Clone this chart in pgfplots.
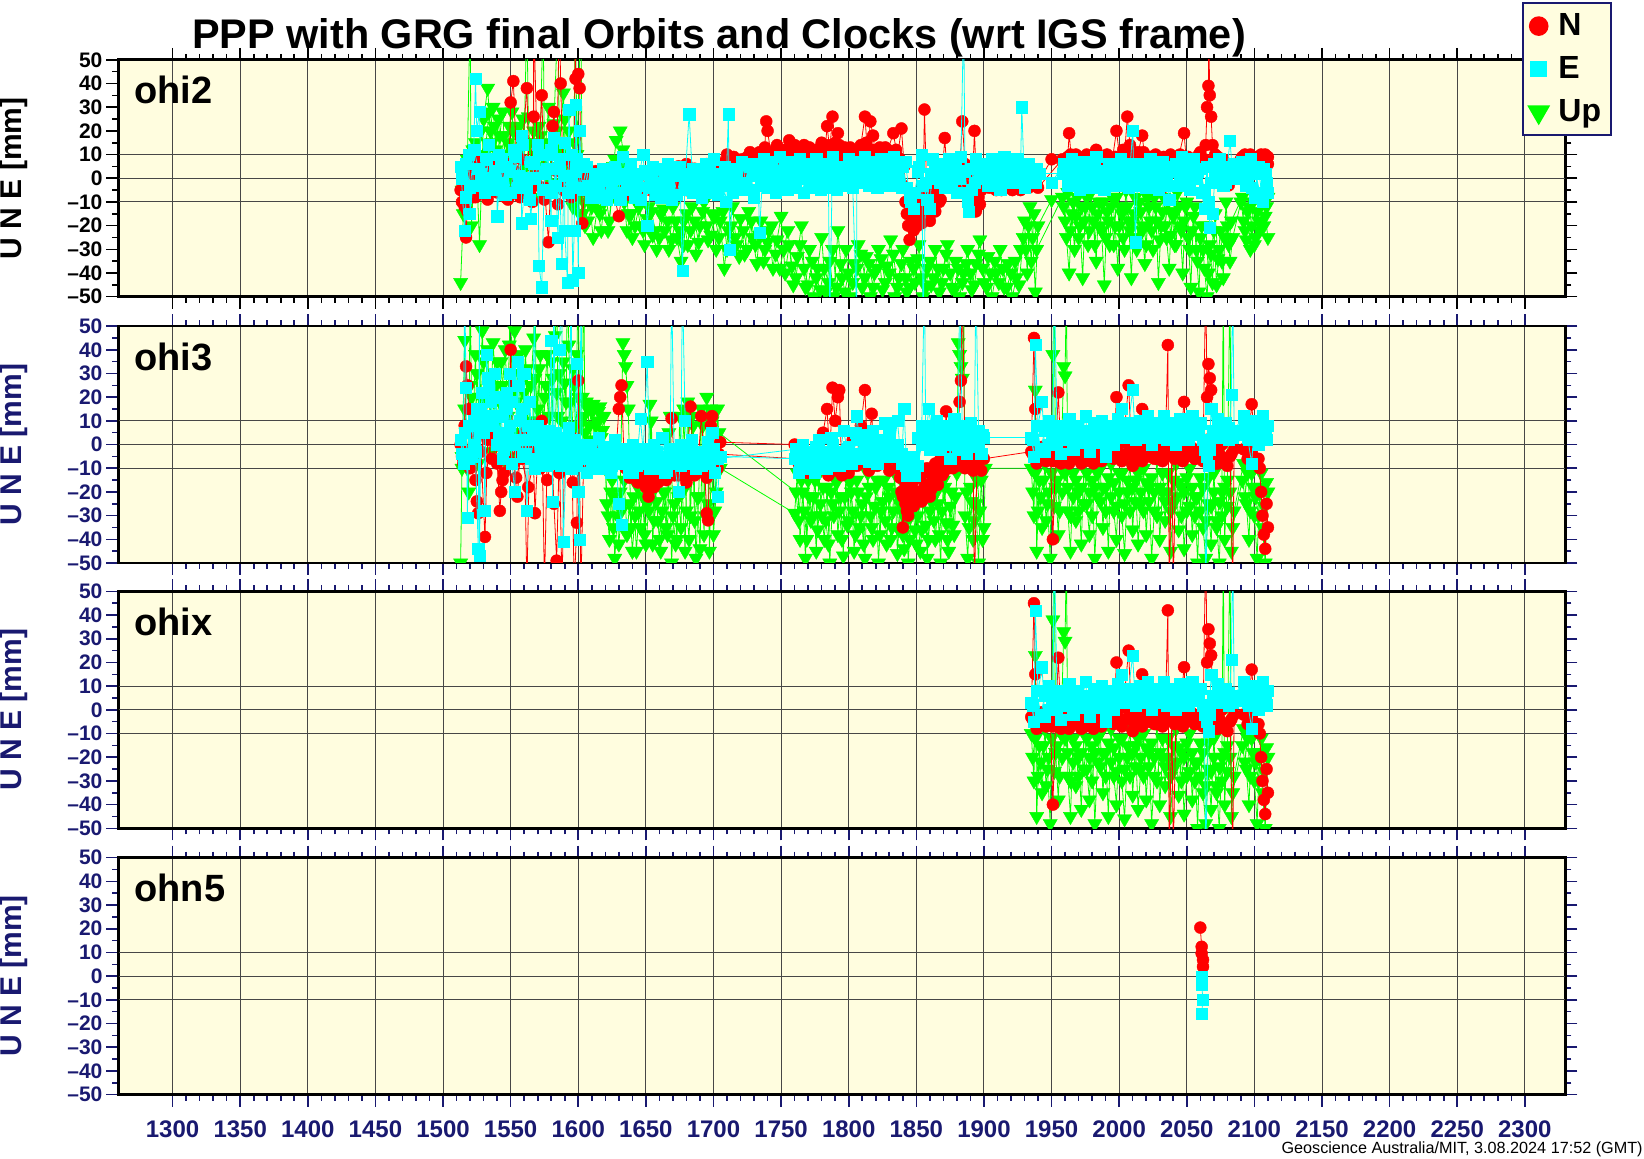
\documentclass[border=0pt]{standalone}
\usepackage{fontspec}
\setmainfont{Liberation Sans}
\usepackage{pgfplots}
\usepackage{pgfplotstable}
\pgfplotsset{compat=1.18}
\definecolor{bgy}{RGB}{255,253,223}
\definecolor{navy}{RGB}{25,25,112}
\definecolor{cN}{RGB}{255,0,0}
\definecolor{cE}{RGB}{0,255,255}
\definecolor{cU}{RGB}{0,255,0}

% ---------------- ohi2 ----------------
\pgfplotstableread[row sep=\\]{x y\\
1513 5\\1516 -22\\1517 -8\\1519 10\\1520 -15\\1522 -3\\1524 42\\1525 20\\1527 28\\1528 2\\1531 -6\\1534 14\\1537 0\\1540 -5\\1540 -16\\1543 8\\1546 -7\\1549 3\\1552 12\\1555 -4\\1558 18\\1558 -19\\1561 0\\1564 -9\\1565 -17\\1567 6\\1570 14\\1571 -37\\1573 -46\\1575 2\\1577 10\\1580 -18\\1580 -6\\1582 17\\1585 -25\\1586 4\\1588 -36\\1590 15\\1590 -22\\1592 -44\\1593 29\\1595 -2\\1596 -43\\1597 -22\\1598 31\\1599 8\\1600 -40\\1601 20\\1603 -5\\1606 5\\
1609 -8\\1612 2\\1615 -4\\1618 4\\1621 -9\\1624 -1\\1627 5\\1630 -6\\1633 9\\1636 -3\\1639 6\\1642 -8\\1645 2\\1648 10\\1651 -20\\1654 0\\1657 -7\\1660 4\\1663 -5\\1666 6\\1669 -9\\1672 1\\1675 5\\1677 -39\\1679 0\\1682 27\\1685 -6\\1688 3\\1691 -8\\1694 6\\1697 -2\\1700 8\\1703 -7\\1706 2\\1709 -10\\1711 27\\1712 -30\\1715 4\\1718 -5\\1721 7\\1724 -2\\1727 5\\1730 -8\\1733 3\\1734 -23\\1737 8\\1740 -4\\1743 6\\1746 -6\\1749 9\\1752 0\\1755 -5\\1758 7\\1761 -3\\1764 8\\1767 -6\\1770 4\\1773 -1\\1776 8\\1779 -5\\1782 6\\1785 -3\\1786 -60\\1788 9\\1791 -5\\1794 5\\1797 -2\\1800 8\\
1803 -4\\1806 -60\\1806 7\\1809 0\\1812 9\\1815 -3\\1818 6\\1821 -4\\1824 8\\1827 1\\1830 -3\\1833 9\\1836 2\\1839 -4\\1842 7\\1845 -8\\1848 -13\\1851 3\\1854 10\\1855 -60\\1857 -2\\1860 -13\\1862 8\\1865 0\\1868 5\\1871 -4\\1874 8\\1877 1\\1880 -6\\1883 9\\1885 70\\1886 3\\1889 -14\\1891 -5\\1894 8\\1897 0\\1900 5\\1903 -3\\1906 8\\1909 1\\1912 -5\\1915 9\\1918 2\\1921 -2\\1924 8\\1927 3\\1928 30\\1930 -4\\1933 6\\1936 0\\1939 4\\1950 -2\\
1959 6\\1962 -3\\1965 8\\1968 1\\1971 -5\\1974 7\\1977 2\\1980 -4\\1983 9\\1986 0\\1989 -5\\1992 6\\1995 1\\1998 -3\\2001 8\\2004 2\\2007 -4\\2010 20\\2012 -27\\2014 6\\2017 0\\2020 -4\\2023 8\\2026 2\\2029 -5\\2032 7\\2035 0\\2037 -9\\2040 5\\2043 -3\\2046 9\\2049 1\\2052 -5\\2055 8\\2058 3\\2061 -6\\2063 -13\\2065 5\\2067 -21\\2069 -15\\2071 2\\2074 8\\2077 -3\\2080 5\\2082 16\\2084 0\\
2091 7\\2094 -3\\2097 8\\2100 -8\\2103 5\\2106 -10\\2108 2\\2110 -6\\
}\Ebi
\pgfplotstableread[row sep=\\]{x y\\
1514 0\\1517 6\\1520 -4\\1523 12\\1526 4\\1529 -2\\1532 8\\1535 -5\\1538 3\\1541 10\\1544 -2\\1547 5\\1550 -6\\1553 9\\1556 1\\1559 14\\1562 -4\\1565 7\\1568 0\\1571 10\\1574 -5\\1577 4\\1580 12\\1583 -3\\1586 8\\1589 1\\1592 -6\\1595 10\\1598 3\\1601 -4\\1604 6\\
1607 -3\\1610 -6\\1613 0\\1616 -8\\1619 -1\\1622 3\\1625 -6\\1628 0\\1631 -9\\1634 2\\1637 -5\\1640 1\\1643 -3\\1646 -9\\1649 3\\1652 -4\\1655 5\\1658 -2\\1661 -8\\1664 1\\1667 -4\\1670 3\\1673 -7\\1676 2\\1679 -5\\1682 0\\1685 4\\1688 -3\\1691 1\\1694 -6\\1697 3\\1700 -4\\
1702 2\\1705 -3\\1708 5\\1711 -1\\1714 -6\\1717 3\\1720 -2\\1723 6\\1726 -5\\1729 1\\1732 6\\1735 -3\\1738 2\\1741 7\\1744 -2\\1747 3\\1750 -4\\1753 5\\1756 1\\1759 -4\\1762 4\\1765 0\\1768 6\\1771 -4\\1774 3\\1777 -2\\1780 5\\1783 0\\1786 -4\\1789 4\\1792 1\\1795 -3\\1798 5\\
1801 1\\1804 5\\1807 -2\\1810 4\\1813 0\\1816 7\\1819 2\\1822 -2\\1825 4\\1828 6\\1831 0\\1834 4\\1837 -1\\1840 5\\1843 -4\\1846 -10\\1849 -6\\1852 5\\1855 -3\\1858 -9\\1861 2\\1864 4\\1867 -2\\1870 6\\1873 2\\1876 -3\\1879 5\\1882 0\\1885 -6\\1888 -10\\1890 4\\1893 -2\\1896 5\\1899 1\\1902 6\\1905 0\\1908 4\\1911 -2\\1914 5\\1917 0\\1920 6\\1923 1\\1926 -2\\1929 5\\1932 1\\1935 4\\1938 -2\\1941 2\\
1958 2\\1961 5\\1964 -1\\1967 4\\1970 0\\1973 5\\1976 -2\\1979 3\\1982 6\\1985 -1\\1988 3\\1991 -2\\1994 5\\1997 1\\2000 4\\2003 -2\\2006 6\\2009 1\\2012 -3\\2015 4\\2018 6\\2021 0\\2024 4\\2027 -2\\2030 5\\2033 2\\2036 -3\\2039 3\\2042 6\\2045 0\\2048 4\\2051 -2\\2054 5\\2057 0\\2060 4\\2063 -5\\2066 -10\\2068 -2\\2070 6\\2073 1\\2076 5\\2079 -2\\2082 3\\2085 6\\
2090 4\\2092 0\\2095 5\\2098 -4\\2101 2\\2104 -6\\2107 4\\2109 -2\\
}\EbiC

\pgfplotstableread[row sep=\\]{x y\\
1513 -5\\1516 -12\\1517 -25\\1519 5\\1522 -8\\1525 8\\1528 -3\\1531 3\\1534 -6\\1537 5\\1540 -3\\1543 2\\1546 -8\\1549 6\\1550 32\\1552 41\\1555 -3\\1558 8\\1562 38\\1564 -6\\1567 26\\1567 70\\1570 2\\1573 35\\1575 -4\\1578 -27\\1581 22\\1582 28\\1584 3\\1586 70\\1587 40\\1589 -5\\1591 8\\1594 -2\\1597 5\\1598 70\\1598 42\\1600 44\\1601 38\\1603 -19\\1605 -2\\
1608 1\\1611 -3\\1614 2\\1617 -5\\1620 0\\1623 3\\1626 -6\\1630 -16\\1632 -8\\1635 -2\\1638 -7\\1641 0\\1644 -5\\1647 2\\1650 -4\\1653 1\\1656 -6\\1659 2\\1662 -3\\1665 0\\1668 3\\1671 -5\\1674 5\\1677 -2\\1680 6\\1683 1\\1686 4\\1689 -3\\1692 3\\1695 6\\1698 0\\1701 8\\1704 2\\1707 5\\1710 10\\1713 3\\1716 7\\1719 0\\1722 5\\1725 9\\1728 3\\1731 6\\1734 11\\1737 4\\1739 24\\1740 20\\1743 8\\1746 12\\1749 5\\1752 10\\1756 16\\1758 6\\1761 12\\1764 8\\1767 14\\1770 6\\1773 11\\1776 5\\1779 13\\1782 8\\1784 22\\1786 12\\1788 26\\1790 15\\1792 19\\1794 10\\1797 13\\1800 6\\
1803 11\\1806 8\\1809 14\\1812 26\\1814 10\\1816 24\\1818 18\\1820 9\\1823 13\\1826 7\\1829 12\\1833 19\\1836 9\\1839 21\\1841 5\\1843 -15\\1845 -26\\1847 -18\\1849 -10\\1851 -20\\1853 -15\\1855 -8\\1856 29\\1858 -12\\1860 -18\\1862 -5\\1864 -14\\1866 -3\\1868 -9\\1871 17\\1873 0\\1876 -4\\1879 5\\1882 2\\1884 24\\1886 6\\1888 2\\1891 -8\\1893 20\\1895 -12\\1897 -11\\1900 -3\\1903 2\\1906 -2\\1909 -5\\1912 -1\\1915 -4\\1918 0\\1921 -5\\1924 -2\\1927 -5\\1930 -1\\1933 -4\\1936 0\\1939 -3\\1950 8\\
1959 4\\1962 9\\1963 19\\1965 6\\1968 10\\1971 4\\1974 8\\1977 3\\1980 -4\\1983 12\\1986 5\\1989 9\\1992 2\\1995 8\\1998 20\\2001 6\\2004 10\\2006 26\\2008 14\\2011 7\\2014 11\\2017 18\\2020 4\\2023 9\\2026 3\\2029 8\\2032 -4\\2035 6\\2038 10\\2041 3\\2044 9\\2048 19\\2050 5\\2053 8\\2056 3\\2059 10\\2062 6\\2064 14\\2065 30\\2066 39\\2066 70\\2067 35\\2068 26\\2069 14\\2071 10\\2074 5\\2077 8\\2081 -3\\2084 5\\
2091 9\\2094 6\\2097 10\\2100 7\\2103 9\\2106 8\\2108 10\\2110 6\\
}\Nbi
\pgfplotstableread[row sep=\\]{x y\\
1514 -10\\1518 -14\\1521 2\\1524 -8\\1527 4\\1530 -2\\1533 -9\\1536 0\\1540 -6\\1544 -1\\1548 -9\\1553 3\\1557 -8\\1561 -2\\1566 -10\\1570 -3\\1575 -9\\1580 -4\\1585 -11\\1590 -3\\1595 -8\\1600 -5\\1604 0\\1607 2\\1610 -2\\1613 3\\1616 -1\\1640 -6\\1660 -8\\1680 -5\\
1700 3\\1703 6\\1706 1\\1709 7\\1712 4\\1715 9\\1718 5\\1721 8\\1724 3\\1727 11\\1730 7\\1733 4\\1736 9\\1738 13\\1741 6\\1744 10\\1747 14\\1750 8\\1753 12\\1755 6\\1757 10\\1760 14\\1762 7\\1765 11\\1768 9\\1771 13\\1774 8\\1777 12\\1780 15\\1782 10\\1785 14\\1787 9\\1789 12\\1791 8\\1793 14\\1795 11\\1798 9\\
1801 13\\1804 7\\1807 12\\1810 9\\1813 15\\1815 8\\1817 12\\1819 6\\1821 11\\1824 8\\1827 13\\1830 9\\1832 6\\1835 12\\1838 8\\1840 -3\\1842 -10\\1844 -20\\1846 -14\\1848 -22\\1850 -16\\1852 -11\\1854 -19\\1856 -13\\1857 -7\\1859 -15\\1861 -9\\1863 -12\\1865 -6\\1867 -10\\1869 -4\\1872 -2\\1875 2\\1878 -3\\1881 5\\1884 -2\\1887 3\\1890 -6\\1892 -10\\1894 -14\\1896 -8\\1898 -5\\1901 -2\\1904 -4\\1907 -1\\1910 -3\\1913 -5\\1916 -2\\1919 -4\\1922 -1\\1925 -3\\1928 -4\\1931 -2\\1934 -3\\1937 -1\\1940 -4\\
1958 8\\1961 5\\1964 10\\1967 6\\1970 9\\1973 5\\1976 10\\1979 6\\1982 8\\1985 3\\1988 7\\1991 10\\1994 5\\1997 9\\2000 6\\2003 12\\2006 8\\2009 10\\2012 5\\2015 9\\2018 11\\2021 7\\2024 6\\2027 10\\2030 6\\2033 9\\2036 4\\2039 8\\2042 6\\2045 10\\2048 7\\2051 9\\2054 5\\2057 8\\2060 11\\2063 8\\2070 5\\2073 9\\2076 4\\2079 6\\2082 2\\2085 6\\
2090 8\\2093 10\\2096 7\\2099 9\\2102 6\\2105 10\\2108 8\\2110 9\\
}\NbiC

\pgfplotstableread[row sep=\\]{x y\\
1513 -44\\1515 -15\\1518 8\\1520 70\\1521 -20\\1524 15\\1527 -28\\1530 25\\1533 38\\1535 20\\1537 30\\1539 12\\1541 25\\1543 5\\1545 18\\1547 -5\\1549 22\\1551 28\\1553 10\\1556 22\\1558 -3\\1560 15\\1562 70\\1563 26\\1565 5\\1567 20\\1570 -8\\1572 18\\1574 70\\1575 8\\1578 30\\1580 -2\\1582 23\\1585 70\\1586 12\\1589 36\\1591 0\\1593 20\\1596 -12\\1598 70\\1599 10\\1602 70\\1603 -15\\
1605 -20\\1608 -8\\1611 -25\\1614 -13\\1617 -22\\1620 -6\\1623 -18\\1626 5\\1628 16\\1631 20\\1633 12\\1635 -2\\1637 -15\\1640 -25\\1643 -10\\1646 -20\\1649 -28\\1652 -12\\1655 -24\\1658 -30\\1661 -15\\1664 -22\\1667 -30\\1670 -12\\1673 -25\\1676 -35\\1678 -18\\1681 -28\\1684 -12\\1687 -32\\1690 -20\\1693 -10\\1696 -26\\1699 -15\\1702 -30\\1705 -18\\1708 -38\\1711 -22\\1714 -12\\1717 -28\\1720 -17\\1723 -32\\1726 -14\\1729 -25\\1732 -36\\1735 -18\\1738 -30\\1741 -22\\1744 -38\\1747 -26\\1750 -16\\1753 -40\\1756 -28\\1759 -45\\1762 -33\\1765 -20\\1768 -46\\1771 -30\\1774 -50\\1777 -38\\1780 -25\\1783 -48\\1786 -35\\1789 -50\\1792 -22\\1795 -42\\1798 -30\\
1801 -50\\1804 -36\\1807 -28\\1810 -46\\1813 -33\\1816 -50\\1819 -40\\1822 -30\\1825 -47\\1828 -37\\1831 -26\\1834 -50\\1837 -42\\1840 -30\\1843 -48\\1846 -35\\1849 -44\\1852 -28\\1855 -50\\1858 -38\\1861 -45\\1864 -30\\1867 -48\\1870 -38\\1873 -28\\1876 -46\\1879 -35\\1882 -50\\1885 -40\\1888 -30\\1891 -47\\1894 -36\\1897 -26\\1900 -44\\1903 -33\\1906 -50\\1909 -40\\1912 -30\\1915 -46\\1918 -36\\1921 -50\\1924 -42\\1927 -30\\1930 -18\\1932 -40\\1934 -12\\1936 -25\\1938 -48\\1940 -20\\1950 -9\\
1959 -12\\1961 -25\\1963 -40\\1965 -15\\1967 -30\\1969 -8\\1971 -20\\1973 -42\\1975 -12\\1977 -28\\1979 -6\\1981 -18\\1983 -35\\1985 -10\\1987 -22\\1989 -45\\1991 -14\\1993 -28\\1995 -8\\1997 -20\\1999 -38\\2001 -12\\2003 -25\\2005 -5\\2007 -18\\2009 -42\\2011 -15\\2013 -30\\2015 -10\\2017 -22\\2019 -36\\2021 -8\\2023 -18\\2025 -30\\2027 -12\\2029 -44\\2031 -20\\2033 -8\\2035 -25\\2037 -38\\2039 -14\\2041 -28\\2043 -6\\2045 -20\\2047 -40\\2049 -12\\2051 -25\\2053 -46\\2055 -16\\2057 -30\\2059 -48\\2061 -20\\2063 -38\\2065 -50\\2067 -28\\2069 -44\\2071 -15\\2073 -34\\2075 -22\\2077 -42\\2079 -10\\2081 -28\\2083 -18\\
2091 -8\\2093 -22\\2095 -14\\2097 -30\\2099 -10\\2101 -25\\2103 -18\\2105 -6\\2107 -20\\2109 -12\\2110 -8\\
}\Ubi
\pgfplotstableread[row sep=\\]{x y\\
1514 -5\\1516 5\\1519 -10\\1522 12\\1525 0\\1528 20\\1531 10\\1534 28\\1536 15\\1538 22\\1540 8\\1542 18\\1544 28\\1546 10\\1548 15\\1550 0\\1552 20\\1554 -5\\1557 12\\1559 25\\1561 5\\1564 15\\1566 -3\\1568 10\\1571 22\\1573 5\\1576 15\\1579 -5\\1581 12\\1584 20\\1587 5\\1590 25\\1592 10\\1594 -2\\1597 15\\1600 -8\\1601 -15\\1604 -10\\1607 -18\\1610 -12\\1613 -5\\1616 -15\\1619 -10\\1622 -22\\1625 -8\\1627 8\\1629 -5\\1632 5\\1634 -10\\1636 -22\\1639 -15\\1642 -20\\1645 -12\\1648 -22\\1651 -17\\1654 -14\\1657 -22\\1660 -25\\1663 -13\\1666 -18\\1669 -26\\1672 -18\\1675 -22\\1678 -28\\1680 -15\\1683 -22\\1686 -18\\1689 -27\\1692 -14\\1695 -20\\1698 -24\\
1701 -16\\1704 -25\\1707 -14\\1710 -30\\1713 -20\\1716 -25\\1719 -33\\1722 -22\\1725 -30\\1728 -18\\1731 -28\\1734 -24\\1737 -35\\1740 -27\\1743 -20\\1746 -32\\1749 -38\\1752 -30\\1755 -22\\1758 -37\\1761 -42\\1764 -28\\1767 -38\\1770 -45\\1773 -35\\1776 -42\\1779 -47\\1782 -38\\1785 -44\\1788 -30\\1791 -46\\1794 -36\\1797 -48\\1800 -40\\1803 -44\\1806 -38\\1809 -32\\1812 -42\\1815 -36\\1818 -46\\1821 -38\\1824 -34\\1827 -44\\1830 -40\\1833 -32\\1836 -46\\1839 -36\\1842 -42\\1845 -46\\1848 -38\\1851 -34\\1854 -42\\1857 -46\\1860 -35\\1863 -42\\1866 -38\\1869 -44\\1872 -32\\1875 -40\\1878 -47\\1881 -38\\1884 -44\\1887 -36\\1890 -40\\1893 -45\\1896 -32\\1899 -38\\1902 -46\\1905 -40\\1908 -35\\1911 -44\\1914 -38\\1917 -46\\1920 -40\\1923 -35\\1926 -45\\1929 -25\\1931 -30\\1933 -20\\1935 -35\\1937 -15\\1939 -30\\
1958 -8\\1960 -18\\1962 -6\\1964 -22\\1966 -10\\1968 -16\\1970 -25\\1972 -12\\1974 -18\\1976 -8\\1978 -22\\1980 -12\\1982 -28\\1984 -15\\1986 -20\\1988 -10\\1990 -25\\1992 -18\\1994 -12\\1996 -28\\1998 -8\\2000 -20\\2002 -15\\2004 -30\\2006 -12\\2008 -22\\2010 -18\\2012 -8\\2014 -25\\2016 -14\\2018 -20\\2020 -28\\2022 -12\\2024 -22\\2026 -8\\2028 -18\\2030 -26\\2032 -14\\2034 -20\\2036 -10\\2038 -24\\2040 -16\\2042 -28\\2044 -12\\2046 -22\\2048 -18\\2050 -10\\2052 -30\\2054 -22\\2056 -12\\2058 -35\\2060 -25\\2062 -30\\2064 -20\\2066 -40\\2068 -32\\2070 -22\\2072 -45\\2074 -30\\2076 -35\\2078 -25\\2080 -20\\2082 -35\\2084 -25\\
2090 -10\\2092 -18\\2094 -26\\2096 -12\\2098 -20\\2100 -28\\2102 -14\\2104 -22\\2106 -10\\2108 -16\\2110 -25\\
}\UbiC

% ---------------- ohi3 part A (1513-1900) ----------------
\pgfplotstableread[row sep=\\]{x y\\
1513 2\\1515 -8\\1516 70\\1517 24\\1518 -31\\1519 8\\1521 -5\\1523 10\\1524 -3\\1526 -44\\1527 70\\1527 -47\\1528 15\\1530 5\\1531 -28\\1532 38\\1534 25\\1536 12\\1538 30\\1540 0\\1542 20\\1544 -6\\1546 15\\1548 3\\1549 30\\1551 -8\\1553 -20\\1555 35\\1557 10\\1559 -5\\1560 30\\1562 -28\\1564 18\\1566 2\\1568 70\\1568 -10\\1570 8\\1572 -3\\1574 5\\1576 -9\\1578 6\\1580 44\\1581 -24\\1582 70\\1583 0\\1585 -7\\1586 40\\1588 70\\1588 3\\1589 -41\\1591 -5\\1593 7\\1595 70\\1595 -10\\1597 2\\1599 34\\1600 -20\\1601 -40\\1602 70\\1603 -5\\
1606 -12\\1609 0\\1612 -8\\1615 3\\1618 -10\\1621 -2\\1624 -12\\1627 2\\1630 -25\\1632 -34\\1634 -6\\1637 -12\\1640 0\\1643 -9\\1646 11\\1648 -3\\1651 35\\1653 -10\\1656 0\\1659 -8\\1662 3\\1665 -11\\1668 -2\\1669 70\\1671 -7\\1674 -20\\1676 0\\1677 70\\1679 10\\1681 -6\\1684 2\\1687 -10\\1690 -3\\1693 -8\\1696 1\\1699 5\\1701 -12\\1703 -22\\1705 -5\\
1760 -6\\1763 -12\\1766 0\\1769 -8\\1772 -3\\1775 -12\\1778 2\\1781 -6\\1784 -10\\1787 3\\1790 -4\\1793 -9\\1796 6\\1799 -2\\1802 -8\\1805 5\\1806 12\\1809 -4\\1812 4\\1815 -7\\1818 6\\1821 0\\1824 -5\\1827 9\\1830 2\\1833 -3\\1836 10\\1839 -8\\1841 15\\1843 -13\\1846 -9\\1849 -13\\1851 3\\1854 8\\1856 70\\1857 0\\1859 15\\1862 5\\1865 10\\1868 -2\\1871 8\\1874 3\\1875 -6\\1878 11\\1881 2\\1882 70\\1884 6\\1887 -4\\1890 9\\1893 2\\1894 70\\1896 6\\1898 -4\\1900 3\\
}\EtriA
\pgfplotstableread[row sep=\\]{x y\\
1514 -4\\1516 5\\1519 -6\\1521 8\\1523 0\\1525 15\\1527 5\\1529 22\\1531 10\\1533 28\\1535 18\\1537 8\\1539 20\\1541 5\\1543 12\\1545 -2\\1547 22\\1549 8\\1551 18\\1553 0\\1555 25\\1557 2\\1559 15\\1561 -4\\1563 8\\1565 -6\\1567 3\\1569 -8\\1571 2\\1573 -6\\1575 4\\1577 -5\\1579 0\\1581 -8\\1583 5\\1585 -3\\1587 -9\\1589 2\\1591 -6\\1593 -1\\1595 -8\\1597 -3\\1599 -9\\1601 0\\1604 -6\\1607 -3\\1610 -10\\1613 -4\\1616 -8\\1619 -1\\1622 -6\\1625 -9\\1628 -3\\1631 -8\\1634 -2\\1637 -7\\1640 -12\\1643 -4\\1646 -8\\1649 -2\\1652 -6\\1655 -10\\1658 -3\\1661 -7\\1664 -12\\1667 -5\\1670 -8\\1673 -2\\1676 -9\\1679 -4\\1682 -8\\1685 -3\\1688 -6\\1691 -9\\1694 -4\\1697 -7\\1700 -2\\1703 -6\\
1761 -2\\1764 -8\\1767 -4\\1770 -10\\1773 -6\\1776 -1\\1779 -9\\1782 -3\\1785 -6\\1788 0\\1791 -7\\1794 -3\\1797 -8\\1800 -1\\1803 -4\\1806 2\\1809 -6\\1812 -1\\1815 3\\1818 -4\\1821 -8\\1824 2\\1827 -3\\1830 5\\1833 -5\\1836 0\\1839 -4\\1842 -9\\1845 -11\\1848 -5\\1851 -9\\1854 0\\1857 5\\1860 -2\\1863 8\\1866 2\\1869 6\\1872 0\\1875 3\\1878 6\\1881 -2\\1884 4\\1887 8\\1890 1\\1893 6\\1896 -1\\1899 4\\
}\EtriAC

\pgfplotstableread[row sep=\\]{x y\\
1513 0\\1515 -8\\1517 33\\1518 25\\1519 15\\1521 -5\\1523 5\\1525 -24\\1526 -29\\1528 -3\\1531 -39\\1533 2\\1536 -6\\1539 3\\1542 -28\\1543 -20\\1544 -15\\1546 -5\\1548 2\\1550 40\\1552 -8\\1555 -22\\1557 -3\\1560 5\\1562 -60\\1564 -2\\1566 8\\1568 -29\\1570 -4\\1573 10\\1575 -60\\1577 -6\\1580 2\\1582 -25\\1584 -49\\1586 -3\\1588 -60\\1590 0\\1593 -8\\1595 3\\1597 -60\\1599 -33\\1600 27\\1602 -60\\1604 -5\\
1607 -2\\1610 -8\\1613 -3\\1616 -9\\1619 -4\\1622 -10\\1625 -6\\1628 -3\\1630 15\\1631 20\\1632 25\\1634 -8\\1637 -5\\1640 -11\\1643 -7\\1646 -13\\1648 -16\\1650 -10\\1652 -22\\1654 -15\\1656 -18\\1658 -9\\1661 -14\\1664 -8\\1667 -12\\1669 11\\1671 -6\\1674 -13\\1677 -9\\1680 -14\\1683 16\\1685 -7\\1688 -12\\1691 12\\1693 -5\\1695 -29\\1696 -32\\1698 8\\1699 12\\1701 -5\\1703 -10\\1705 1\\
1760 0\\1763 -8\\1766 -12\\1769 -5\\1772 -10\\1775 -4\\1778 -9\\1781 5\\1784 15\\1786 -6\\1788 24\\1790 10\\1792 20\\1793 23\\1795 -13\\1797 -4\\1800 -8\\1803 2\\1806 -6\\1809 8\\1812 23\\1814 -5\\1817 13\\1819 -8\\1822 -2\\1825 -7\\1828 0\\1831 -6\\1834 -3\\1837 -9\\1839 -20\\1840 -35\\1842 -25\\1844 -30\\1846 -15\\1848 -26\\1850 -20\\1852 -12\\1854 -24\\1856 -18\\1858 -10\\1860 -22\\1862 -15\\1864 -8\\1866 -17\\1868 -6\\1870 -12\\1872 14\\1874 -5\\1877 -10\\1880 -4\\1882 18\\1883 27\\1884 70\\1886 -7\\1889 -3\\1892 -9\\1893 -60\\1895 -5\\1898 -11\\1900 -6\\
}\NtriA
\pgfplotstableread[row sep=\\]{x y\\
1514 -5\\1516 8\\1520 -10\\1524 -15\\1528 5\\1532 -12\\1536 3\\1540 -8\\1545 -12\\1550 2\\1554 -14\\1558 -6\\1563 -18\\1568 -5\\1572 -10\\1577 -15\\1581 -4\\1586 -12\\1591 -8\\1596 -16\\1600 -3\\1604 -8\\1610 -3\\1615 -6\\1620 -4\\1625 -8\\1630 -5\\1635 -10\\1638 -14\\1641 -8\\1644 -16\\1647 -11\\1650 -18\\1653 -13\\1656 -9\\1659 -16\\1662 -11\\1665 -15\\1668 -9\\1671 -13\\1674 -8\\1677 -12\\1680 -16\\1683 -9\\1686 -13\\1689 -7\\1692 -11\\1695 -14\\1698 -6\\1701 -10\\1704 -4\\
1761 -6\\1764 -10\\1767 -4\\1770 -12\\1773 -7\\1776 -11\\1779 -5\\1782 -9\\1785 -13\\1788 -7\\1791 -11\\1794 -6\\1797 -10\\1800 -12\\1803 -5\\1806 -9\\1809 -4\\1812 -8\\1815 -11\\1818 -5\\1821 -9\\1824 -3\\1827 -8\\1830 -11\\1833 -5\\1836 -10\\1838 -14\\1840 -22\\1842 -18\\1843 -28\\1845 -22\\1847 -16\\1849 -24\\1851 -14\\1853 -20\\1855 -12\\1857 -17\\1859 -11\\1861 -19\\1863 -10\\1865 -14\\1867 -8\\1869 -13\\1871 -7\\1874 -10\\1877 -6\\1880 -9\\1883 -5\\1886 -10\\1889 -6\\1892 -11\\1895 -8\\1898 -4\\
}\NtriAC

\pgfplotstableread[row sep=\\]{x y\\
1513 -50\\1514 -10\\1516 44\\1517 5\\1519 -20\\1520 70\\1521 20\\1523 -5\\1525 30\\1527 10\\1529 48\\1531 20\\1533 40\\1535 8\\1537 43\\1539 25\\1541 0\\1543 35\\1545 15\\1547 -8\\1549 42\\1550 70\\1551 22\\1553 48\\1555 5\\1557 30\\1559 12\\1561 40\\1563 -2\\1565 25\\1567 45\\1568 70\\1569 10\\1571 32\\1573 -5\\1575 20\\1577 38\\1579 5\\1581 28\\1583 46\\1584 70\\1585 12\\1587 -3\\1589 35\\1591 18\\1592 70\\1593 42\\1595 2\\1597 25\\1599 38\\1600 70\\1601 8\\1603 20\\1604 70\\
1605 5\\1607 15\\1609 2\\1611 17\\1613 8\\1615 14\\1617 3\\1619 12\\1621 -25\\1623 -40\\1625 -15\\1627 -48\\1629 -30\\1631 -20\\1633 43\\1634 38\\1635 33\\1636 25\\1637 15\\1639 -35\\1641 -22\\1643 -45\\1645 -28\\1647 -15\\1649 -38\\1651 -25\\1653 17\\1655 -42\\1657 -18\\1659 -32\\1661 -45\\1663 -20\\1665 -35\\1667 5\\1669 -50\\1671 -25\\1673 -40\\1675 12\\1677 -20\\1679 -45\\1681 18\\1683 -30\\1685 8\\1687 -48\\1689 -22\\1691 15\\1693 -38\\1695 20\\1697 -45\\1699 10\\1701 -28\\1703 15\\1705 -10\\
1760 -29\\1762 -12\\1764 -40\\1766 -20\\1768 -48\\1770 -15\\1772 -32\\1774 -22\\1776 -45\\1778 -12\\1780 -30\\1782 -40\\1784 -18\\1786 -50\\1788 -25\\1790 -14\\1792 -38\\1794 -22\\1796 -47\\1798 -12\\1800 -32\\1802 -20\\1804 -45\\1806 -15\\1808 -35\\1810 -25\\1812 -48\\1814 -12\\1816 -30\\1818 -40\\1820 -18\\1822 -50\\1824 -28\\1826 -15\\1828 -42\\1830 -22\\1832 -35\\1834 -12\\1836 -46\\1838 -25\\1840 -38\\1842 -18\\1844 -50\\1846 -30\\1848 -14\\1850 -42\\1852 -24\\1854 -36\\1856 -12\\1858 -48\\1860 -28\\1862 -18\\1864 -40\\1866 -25\\1868 -50\\1870 -15\\1872 -33\\1874 -45\\1876 -20\\1878 -38\\1880 -12\\1881 43\\1882 38\\1883 33\\1884 28\\1885 70\\1886 -30\\1888 -48\\1890 -18\\1892 -40\\1894 -25\\1896 -50\\1898 -15\\1900 -35\\1901 -10\\
}\UtriA
\pgfplotstableread[row sep=\\]{x y\\
1514 -5\\1516 15\\1518 -10\\1520 25\\1522 5\\1524 38\\1526 -8\\1528 20\\1530 35\\1532 10\\1534 28\\1536 -3\\1538 18\\1540 35\\1542 5\\1544 25\\1546 40\\1548 12\\1550 -5\\1552 30\\1554 18\\1556 38\\1558 5\\1560 22\\1562 32\\1564 10\\1566 -6\\1568 28\\1570 15\\1572 38\\1574 5\\1576 25\\1578 12\\1580 35\\1582 -4\\1584 22\\1586 30\\1588 10\\1590 26\\1592 -2\\1594 18\\1596 32\\1598 8\\1600 20\\1602 -5\\1604 12\\1606 18\\1608 8\\1610 14\\1612 -2\\1614 10\\1616 16\\1618 6\\1620 -10\\1622 -30\\1624 -20\\1626 -35\\1628 -22\\1630 -42\\1632 -28\\1634 -15\\1636 -38\\1638 -25\\1640 -45\\1642 -30\\1644 -18\\1646 -35\\1648 -22\\1650 -42\\1652 -28\\1654 10\\1656 -32\\1658 -24\\1660 -40\\1662 -28\\1664 -20\\1666 -38\\1668 12\\1670 -30\\1672 -42\\1674 -22\\1676 -35\\1678 15\\1680 -28\\1682 -40\\1684 12\\1686 -32\\1688 -22\\1690 -44\\1692 8\\1694 -30\\1696 -25\\1698 15\\1700 -38\\1702 -20\\1704 5\\
1761 -20\\1763 -32\\1765 -15\\1767 -28\\1769 -40\\1771 -22\\1773 -30\\1775 -15\\1777 -36\\1779 -25\\1781 -18\\1783 -32\\1785 -42\\1787 -20\\1789 -30\\1791 -16\\1793 -28\\1795 -40\\1797 -22\\1799 -34\\1801 -16\\1803 -28\\1805 -38\\1807 -20\\1809 -30\\1811 -42\\1813 -22\\1815 -18\\1817 -35\\1819 -26\\1821 -15\\1823 -38\\1825 -24\\1827 -32\\1829 -18\\1831 -40\\1833 -28\\1835 -20\\1837 -36\\1839 -28\\1841 -44\\1843 -32\\1845 -40\\1847 -25\\1849 -36\\1851 -30\\1853 -45\\1855 -22\\1857 -34\\1859 -40\\1861 -24\\1863 -32\\1865 -20\\1867 -38\\1869 -28\\1871 -18\\1873 -40\\1875 -26\\1877 -34\\1879 -22\\1887 -20\\1889 -35\\1891 -24\\1893 -32\\1895 -15\\1897 -28\\1899 -40\\
}\UtriAC

% ---------------- ohi3 part B = ohix (1935-2110) ----------------
\pgfplotstableread[row sep=\\]{x y\\
1935 3\\1937 -5\\1938 42\\1940 8\\1943 18\\1945 -3\\1948 10\\1951 0\\1952 70\\1954 8\\1957 -4\\1960 6\\1963 11\\1966 -2\\1969 8\\1972 2\\1975 12\\1978 -3\\1981 7\\1984 1\\1987 10\\1990 -5\\1993 6\\1996 0\\1999 11\\2002 15\\2004 3\\2007 9\\2010 23\\2012 2\\2015 10\\2018 5\\2021 12\\2024 0\\2027 8\\2030 3\\2033 12\\2036 4\\2039 9\\2042 0\\2045 11\\2048 6\\2051 2\\2054 12\\2057 4\\2060 9\\2063 -2\\2064 -60\\2066 -9\\2068 15\\2070 3\\2073 11\\2076 5\\2079 9\\2081 2\\2083 21\\2084 70\\2085 6\\
2092 12\\2095 3\\2098 -8\\2100 10\\2103 0\\2106 12\\2108 4\\2110 8\\
}\EtriB
\pgfplotstableread[row sep=\\]{x y\\
1936 2\\1939 8\\1942 -2\\1945 6\\1948 0\\1951 5\\1954 1\\1957 7\\1960 2\\1963 4\\1966 8\\1969 2\\1972 6\\1975 1\\1978 5\\1981 9\\1984 3\\1987 6\\1990 0\\1993 4\\1996 8\\1999 3\\2002 6\\2005 9\\2008 3\\2011 7\\2014 4\\2017 8\\2020 3\\2023 7\\2026 9\\2029 4\\2032 7\\2035 2\\2038 6\\2041 9\\2044 4\\2047 8\\2050 3\\2053 6\\2056 9\\2059 5\\2062 2\\2065 -5\\2067 -2\\2069 6\\2072 3\\2075 8\\2078 4\\2081 7\\2084 3\\
2091 4\\2093 8\\2096 2\\2099 6\\2102 8\\2105 3\\2107 6\\2109 2\\
}\EtriBC

\pgfplotstableread[row sep=\\]{x y\\
1935 -3\\1937 45\\1938 15\\1940 -5\\1943 -1\\1946 -7\\1949 -2\\1951 -40\\1953 -4\\1955 22\\1957 -6\\1960 -2\\1963 -8\\1966 -3\\1969 -6\\1972 -1\\1975 -7\\1978 -3\\1981 -8\\1984 -2\\1987 -6\\1990 0\\1993 -5\\1996 -2\\1998 20\\2000 -4\\2003 1\\2007 25\\2009 -2\\2010 -9\\2013 -4\\2017 15\\2019 0\\2022 -5\\2025 -1\\2028 -6\\2031 -2\\2034 -5\\2036 42\\2037 -60\\2039 -3\\2040 -60\\2042 -4\\2045 0\\2048 18\\2050 -5\\2053 -1\\2056 -6\\2059 -2\\2062 -5\\2064 70\\2065 20\\2066 34\\2067 28\\2068 23\\2070 -3\\2073 -8\\2076 0\\2079 -6\\2082 -5\\2084 -60\\2085 -2\\
2092 5\\2095 -2\\2098 17\\2100 3\\2103 -6\\2105 -20\\2106 -30\\2107 -38\\2108 -44\\2109 -25\\2110 -35\\
}\NtriB
\pgfplotstableread[row sep=\\]{x y\\
1936 -4\\1939 -8\\1942 -3\\1945 -6\\1948 -2\\1951 -7\\1954 -3\\1957 -8\\1960 -4\\1963 -1\\1966 -6\\1969 -3\\1972 -8\\1975 -4\\1978 -1\\1981 -6\\1984 -3\\1987 -7\\1990 -4\\1993 -2\\1996 -6\\1999 -3\\2002 -7\\2005 -4\\2008 -1\\2011 -6\\2014 -3\\2017 -7\\2020 -4\\2023 -2\\2026 -6\\2029 -3\\2032 -7\\2035 -4\\2038 -2\\2041 -6\\2044 -3\\2047 -7\\2050 -4\\2053 -2\\2056 -6\\2059 -3\\2062 -7\\2065 2\\2068 -4\\2071 -8\\2074 -4\\2077 -6\\2080 -9\\2083 -4\\
2092 -2\\2095 -6\\2098 -3\\2101 -7\\2104 -10\\
}\NtriBC

\pgfplotstableread[row sep=\\]{x y\\
1935 -10\\1937 -30\\1938 23\\1939 -45\\1941 -15\\1943 -35\\1945 -8\\1947 -25\\1949 -48\\1951 38\\1952 70\\1953 -18\\1955 -38\\1957 -10\\1959 33\\1960 29\\1961 70\\1962 -28\\1964 -45\\1966 -12\\1968 -32\\1970 -20\\1972 -42\\1974 -8\\1976 -25\\1978 -38\\1980 -15\\1982 -48\\1984 -22\\1986 -10\\1988 -35\\1990 -18\\1992 -45\\1994 -8\\1996 -28\\1998 -40\\2000 -12\\2002 -30\\2004 -46\\2006 -20\\2008 -8\\2010 -36\\2012 -15\\2014 -42\\2016 -25\\2018 -10\\2020 -38\\2022 -18\\2024 -48\\2026 -28\\2028 -6\\2030 -40\\2032 -20\\2034 -32\\2036 -12\\2038 -45\\2040 -25\\2042 -8\\2044 -36\\2046 -18\\2048 -44\\2050 -28\\2052 -10\\2054 -38\\2056 -22\\2058 -50\\2060 -14\\2062 -35\\2064 -48\\2066 -25\\2068 -42\\2070 -12\\2072 -32\\2074 -50\\2076 -20\\2077 70\\2078 -40\\2080 -15\\2082 70\\2083 -45\\2085 -28\\
2092 -8\\2094 -25\\2096 -40\\2098 -12\\2100 -30\\2102 -48\\2104 -18\\2106 -35\\2108 -50\\2110 -20\\
}\UtriB
\pgfplotstableread[row sep=\\]{x y\\
1936 -20\\1938 -12\\1940 -28\\1942 -22\\1944 -15\\1946 -32\\1948 -20\\1950 -12\\1952 -26\\1954 -15\\1956 -28\\1958 -20\\1960 -12\\1962 -18\\1964 -30\\1966 -22\\1968 -15\\1970 -28\\1972 -18\\1974 -25\\1976 -12\\1978 -20\\1980 -30\\1982 -18\\1984 -12\\1986 -24\\1988 -18\\1990 -28\\1992 -14\\1994 -22\\1996 -16\\1998 -26\\2000 -20\\2002 -12\\2004 -25\\2006 -15\\2008 -28\\2010 -18\\2012 -24\\2014 -12\\2016 -20\\2018 -28\\2020 -16\\2022 -24\\2024 -14\\2026 -20\\2028 -30\\2030 -18\\2032 -12\\2034 -24\\2036 -20\\2038 -28\\2040 -15\\2042 -22\\2044 -16\\2046 -30\\2048 -20\\2050 -14\\2052 -26\\2054 -18\\2056 -30\\2058 -22\\2060 -28\\2062 -18\\2064 -32\\2066 -14\\2068 -26\\2070 -20\\2072 -35\\2074 -24\\2076 -30\\2078 -18\\2080 -26\\2082 -20\\2084 -35\\
2091 -15\\2093 -22\\2095 -12\\2097 -28\\2099 -18\\2101 -22\\2103 -30\\2105 -12\\2107 -26\\2109 -16\\
}\UtriBC

\pgfplotstablevertcat{\EtriAll}{\EtriA}\pgfplotstablevertcat{\EtriAll}{\EtriB}
\pgfplotstablevertcat{\NtriAll}{\NtriA}\pgfplotstablevertcat{\NtriAll}{\NtriB}
\pgfplotstablevertcat{\UtriAll}{\UtriA}\pgfplotstablevertcat{\UtriAll}{\UtriB}

% ---------------- ohn5 ----------------
\pgfplotstableread[row sep=\\]{x y\\
2060 20.5\\2061 12.4\\2061 9.6\\2062 6.9\\2062 4.0\\
}\Nfive
\pgfplotstableread[row sep=\\]{x y\\
2061 -0.2\\2061 -3.7\\2062 -10\\2061 -15.7\\
}\Efive

\pgfplotsset{
  panel/.style={
    scale only axis, width=723.45pt, height=118.45pt,
    anchor=south west,
    xmin=1260, xmax=2330, ymin=-50, ymax=50,
    axis background/.style={fill=bgy},
    xtick={1300,1350,...,2300}, minor x tick num=4,
    ytick={-50,-40,...,50}, minor y tick num=1,
    yticklabels={–50,–40,–30,–20,–10,0,10,20,30,40,50},
    xticklabels={},
    tick align=outside, major tick length=6pt, minor tick length=3pt,
    every tick/.append style={line width=0.8pt},
    xmajorgrids=true, ymajorgrids=false,
    major grid style={black!72, line width=0.5pt},
    extra y ticks={-10,0,10}, extra y tick labels={},
    extra y tick style={ymajorgrids=true, major tick length=0pt},
    axis line style={line width=1.3pt},
    clip marker paths=true,
    yticklabel style={font=\bfseries\fontsize{10.5}{12}\selectfont, xshift=1.5pt},
  },
  pN/.style={draw=cN, line width=0.4pt, mark=*, mark size=3.0pt,
    mark options={draw=cN, fill=cN, line width=0.2pt}, forget plot},
  pE/.style={draw=cE, line width=0.4pt, mark=square*, mark size=2.8pt,
    mark options={draw=cE, fill=cE, line width=0.2pt}, forget plot},
  pU/.style={draw=cU, line width=0.4pt, mark=triangle*, mark size=4.1pt,
    mark options={rotate=180, draw=cU, fill=cU, line width=0.2pt}, forget plot},
}

\begin{document}
\begin{tikzpicture}
\useasboundingbox (0,0) rectangle (822pt,579pt);

% ---- panel 1: ohi2 ----
\begin{axis}[panel, at={(59.25pt,430.65pt)},
  every tick/.append style={black},
  yticklabel style={black},
  legend style={at={(0.970,1.2435)}, anchor=north west, draw=navy, line width=1pt,
    fill=bgy, font=\bfseries\fontsize{16}{18}\selectfont, inner xsep=3pt, inner ysep=2pt,
    row sep=2.5pt, column sep=3pt, nodes={inner sep=2pt, text height=12pt, text depth=3pt}},
  legend cell align=left,
]
\addlegendimage{only marks, mark=*, mark size=4.4pt, draw=cN, fill=cN}
\addlegendentry{N}
\addlegendimage{only marks, mark=square*, mark size=3.7pt, draw=cE, fill=cE}
\addlegendentry{E}
\addlegendimage{only marks, mark=triangle*, mark size=5.6pt, mark options={rotate=180}, draw=cU, fill=cU}
\addlegendentry{Up}
\addplot[pU] table {\Ubi};
\addplot[pU] table {\UbiC};
\addplot[pN] table {\Nbi};
\addplot[pN] table {\NbiC};
\addplot[pE] table {\Ebi};
\addplot[pE] table {\EbiC};
\end{axis}

% ---- panel 2: ohi3 ----
\begin{axis}[panel, at={(59.25pt,297.5pt)},
  every tick/.append style={navy}, yticklabel style={navy}]
\addplot[pU] table {\UtriAll};
\addplot[pU] table {\UtriAC};
\addplot[pU] table {\UtriBC};
\addplot[pN] table {\NtriAll};
\addplot[pN] table {\NtriAC};
\addplot[pN] table {\NtriBC};
\addplot[pE] table {\EtriAll};
\addplot[pE] table {\EtriAC};
\addplot[pE] table {\EtriBC};
\end{axis}

% ---- panel 3: ohix ----
\begin{axis}[panel, at={(59.25pt,164.85pt)},
  every tick/.append style={navy}, yticklabel style={navy}]
\addplot[pU] table {\UtriB};
\addplot[pU] table {\UtriBC};
\addplot[pN] table {\NtriB};
\addplot[pN] table {\NtriBC};
\addplot[pE] table {\EtriB};
\addplot[pE] table {\EtriBC};
\end{axis}

% ---- panel 4: ohn5 ----
\begin{axis}[panel, at={(59.25pt,31.7pt)},
  every tick/.append style={navy}, yticklabel style={navy},
  xticklabels={1300,1350,1400,1450,1500,1550,1600,1650,1700,1750,1800,1850,1900,1950,2000,2050,2100,2150,2200,2250,2300},
  xticklabel style={font=\bfseries\fontsize{12}{14}\selectfont, navy, yshift=-3.5pt}]
\addplot[pN] table {\Nfive};
\addplot[pE] table {\Efive};
\end{axis}

% ---- texts ----
\node[anchor=base west, font=\bfseries\fontsize{20.7}{24}\selectfont, inner sep=0pt]
  at (95.9pt,554.85pt) {PPP with GRG final Orbits and Clocks (wrt IGS frame)};
\foreach \yb/\nm in {527.0/ohi2, 393.85/ohi3, 261.2/ohix, 128.05/ohn5}{
  \node[anchor=base west, font=\bfseries\fontsize{19}{22}\selectfont, inner sep=0pt]
    at (67pt,\yb pt) {\nm};
}
\node[rotate=90, font=\bfseries\fontsize{15}{18}\selectfont, inner sep=0pt, black]
  at (7pt,489.9pt) {U N E [mm]};
\foreach \yc in {356.7, 224.1, 91.0}{
  \node[rotate=90, font=\bfseries\fontsize{15}{18}\selectfont, inner sep=0pt, navy]
    at (7pt,\yc pt) {U N E [mm]};
}
\node[anchor=base east, font=\fontsize{8.1}{10}\selectfont, inner sep=0pt]
  at (821.5pt,2.35pt) {Geoscience Australia/MIT, 3.08.2024 17:52 (GMT)};
\end{tikzpicture}
\end{document}
